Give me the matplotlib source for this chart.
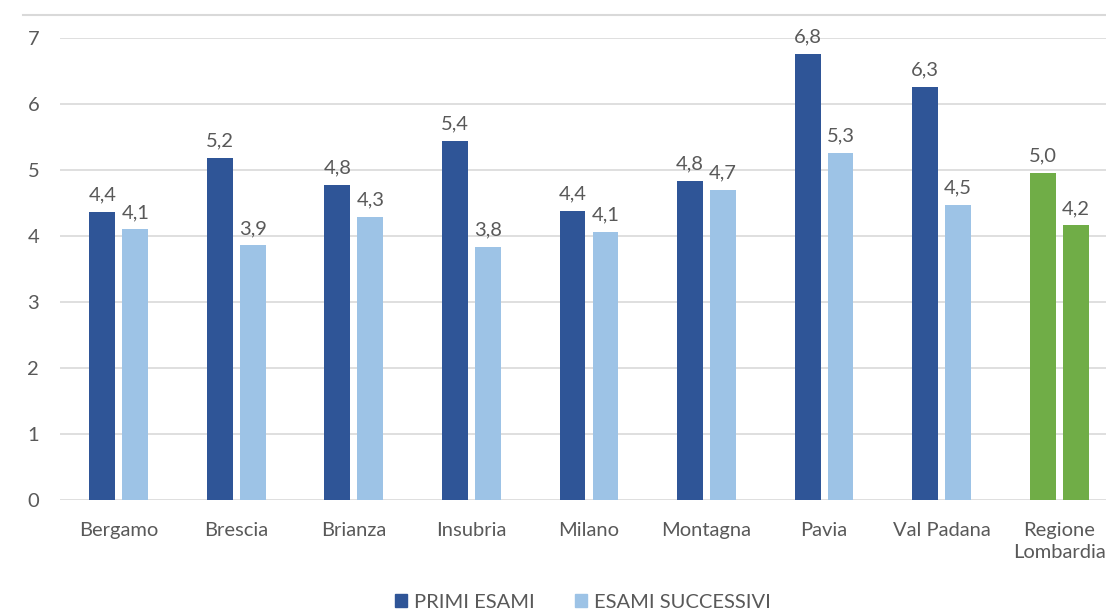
import matplotlib
matplotlib.use("Agg")
import matplotlib.pyplot as plt
from matplotlib.lines import Line2D
from matplotlib.patches import Patch
import numpy as np

plt.rcParams['font.family'] = ['Lato', 'DejaVu Sans']

# Tempi medi per ATS
categories = ['Bergamo', 'Brescia', 'Brianza', 'Insubria', 'Milano',
              'Montagna', 'Pavia', 'Val Padana', 'Regione\nLombardia']
primi_esami = [4.37, 5.18, 4.77, 5.44, 4.38, 4.84, 6.76, 6.26, 4.96]
esami_successivi = [4.10, 3.86, 4.29, 3.84, 4.06, 4.70, 5.26, 4.47, 4.16]
series_labels = ['PRIMI ESAMI', 'ESAMI SUCCESSIVI']

dark_blue = '#2F5597'
light_blue = '#9DC3E6'
green = '#70AD47'
grid_col = '#D9D9D9'
text_col = '#595959'
fs = 14.5

fig = plt.figure(figsize=(11.06, 6.14), dpi=100)
ax = fig.add_axes([60 / 1106, 1 - 500 / 614, 1058 / 1106, 462 / 614])

x = np.arange(len(categories))
w = 0.22
off = 0.14
n = len(categories)
c1 = [dark_blue] * (n - 1) + [green]
c2 = [light_blue] * (n - 1) + [green]
b1 = ax.bar(x - off, primi_esami, w, color=c1, zorder=3)
b2 = ax.bar(x + off, esami_successivi, w, color=c2, zorder=3)

for bars, vals in ((b1, primi_esami), (b2, esami_successivi)):
    for b, v in zip(bars, vals):
        ax.annotate(f"{v:.1f}".replace('.', ','),
                    (b.get_x() + b.get_width() / 2, v),
                    xytext=(0, 6), textcoords='offset points',
                    ha='center', va='bottom', fontsize=fs, color=text_col)

ax.set_xlim(-0.5, n - 0.5)
ax.set_ylim(0, 7)
ax.set_yticks(range(8))
ax.set_xticks(x)
ax.set_xticklabels(categories, linespacing=1.35)
ax.tick_params(axis='both', length=0, labelsize=fs, colors=text_col)
ax.tick_params(axis='y', pad=15)
ax.tick_params(axis='x', pad=16)
ax.grid(axis='y', color=grid_col, linewidth=1.2, zorder=0)
for s in ax.spines.values():
    s.set_visible(False)

# chart frame top edge
fig.add_artist(Line2D([23 / 1106, 1], [1 - 15 / 614, 1 - 15 / 614],
                      color=grid_col, linewidth=1.5))

handles = [Patch(color=dark_blue), Patch(color=light_blue)]
fig.legend(handles, series_labels, loc='center', bbox_to_anchor=(583 / 1106, 1 - 602 / 614),
           ncol=2, frameon=False, fontsize=fs, handlelength=0.6, handleheight=0.6,
           handletextpad=0.35, columnspacing=2.0, labelcolor=text_col)

fig.savefig('out.png', dpi=100)
